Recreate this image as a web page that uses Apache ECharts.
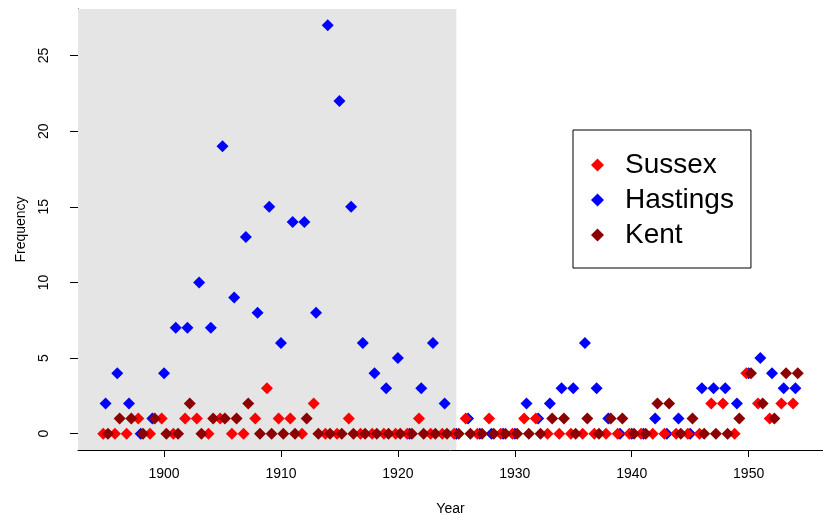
<!DOCTYPE html>
<html>
<head>
<meta charset="utf-8">
<script src="https://cdn.jsdelivr.net/npm/echarts@6/dist/echarts.min.js"></script>
<style>
html,body{margin:0;padding:0;background:#fff;}
#c{width:823px;height:515px;}
</style>
</head>
<body>
<div id="c"></div>
<script>
const years = [1895,1896,1897,1898,1899,1900,1901,1902,1903,1904,1905,1906,1907,1908,1909,1910,1911,1912,1913,1914,1915,1916,1917,1918,1919,1920,1921,1922,1923,1924,1925,1926,1927,1928,1929,1930,1931,1932,1933,1934,1935,1936,1937,1938,1939,1940,1941,1942,1943,1944,1945,1946,1947,1948,1949,1950,1951,1952,1953,1954];
const sussex = [0,0,0,1,0,1,0,1,1,0,1,0,0,1,3,1,1,0,2,0,0,1,0,0,0,0,0,1,0,0,0,1,0,1,0,0,1,1,0,0,0,0,0,0,0,0,0,0,0,0,0,0,2,2,0,4,2,1,2,2];
const hastings = [2,4,2,0,1,4,7,7,10,7,19,9,13,8,15,6,14,14,8,27,22,15,6,4,3,5,0,3,6,2,0,1,0,0,0,0,2,1,2,3,3,6,3,1,0,0,0,1,0,1,0,3,3,3,2,4,5,4,3,3];
const kent = [0,1,1,0,1,0,0,2,0,1,1,1,2,0,0,0,0,1,0,0,0,0,0,0,0,0,0,0,0,0,0,0,0,0,0,0,0,0,1,1,0,1,0,1,1,0,0,2,2,0,1,0,0,0,1,4,2,1,4,4];
const seriesNames = ['Sussex','Hastings','Kent'];
const xTicks = [1900,1910,1920,1930,1940,1950];
const yTicks = [0,5,10,15,20,25];
const shadeEnd = 1925;

const xMin = 1892.64, xMax = 1956.36, yMin = -1.08, yMax = 28.08;
const offsets = {Sussex:-0.2, Hastings:0, Kent:0.2};
const colors = {Sussex:'#FF0000', Hastings:'#0000FF', Kent:'#8B0000'};
const values = {Sussex:sussex, Hastings:hastings, Kent:kent};
const font = '"Liberation Sans", Arial, Helvetica, sans-serif';

function mk(name){
  return {
    name: name,
    type: 'scatter',
    symbol: 'diamond',
    symbolSize: 12,
    itemStyle: {color: colors[name], opacity: 1},
    data: years.map((y,i)=>[y+offsets[name], values[name][i]]),
    silent: true
  };
}
const drawOrder = ['Hastings','Sussex','Kent'];
const series = drawOrder.map(mk);
series[0].markArea = {
  silent: true,
  itemStyle: {color: '#E5E5E5'},
  data: [[{xAxis: xMin}, {xAxis: shadeEnd}]]
};

const chart = echarts.init(document.getElementById('c'), null, {renderer:'canvas'});
chart.setOption({
  animation: false,
  backgroundColor: '#fff',
  textStyle: {fontFamily: font},
  grid: {left: 78, right: 0, top: 9, bottom: 65, containLabel: false, outerBoundsMode: 'none'},
  xAxis: {
    type: 'value', min: xMin, max: xMax,
    name: 'Year', nameLocation: 'middle', nameGap: 52,
    nameTextStyle: {fontSize: 14, color: '#000', fontFamily: font},
    axisLine: {onZero: false, lineStyle: {color: '#000', width: 1}},
    axisTick: {show: true, length: 7, lineStyle: {color: '#000'}, customValues: xTicks},
    axisLabel: {fontSize: 14, color: '#000', margin: 17, customValues: xTicks, fontFamily: font,
      formatter: v => String(Math.round(v))},
    splitLine: {show: false}
  },
  yAxis: {
    type: 'value', min: yMin, max: yMax,
    name: 'Frequency', nameLocation: 'middle', nameGap: 50,
    nameTextStyle: {fontSize: 14, color: '#000', fontFamily: font},
    axisLine: {onZero: false, lineStyle: {color: '#000', width: 1}},
    axisTick: {show: true, length: 8, lineStyle: {color: '#000'}, customValues: yTicks},
    axisLabel: {fontSize: 14, color: '#000', rotate: 90, margin: 27, customValues: yTicks, fontFamily: font,
      formatter: v => String(Math.round(v))},
    splitLine: {show: false}
  },
  legend: {
    data: seriesNames,
    orient: 'vertical',
    left: 573, top: 130,
    backgroundColor: '#fff',
    borderColor: '#000', borderWidth: 1,
    padding: [21, 17, 19, 18],
    itemGap: 7,
    icon: 'diamond',
    itemWidth: 13, itemHeight: 13,
    selectedMode: false,
    textStyle: {fontSize: 28, color: '#000', lineHeight: 28, padding: [0,0,0,16], fontFamily: font}
  },
  series: series
});
</script>
</body>
</html>
